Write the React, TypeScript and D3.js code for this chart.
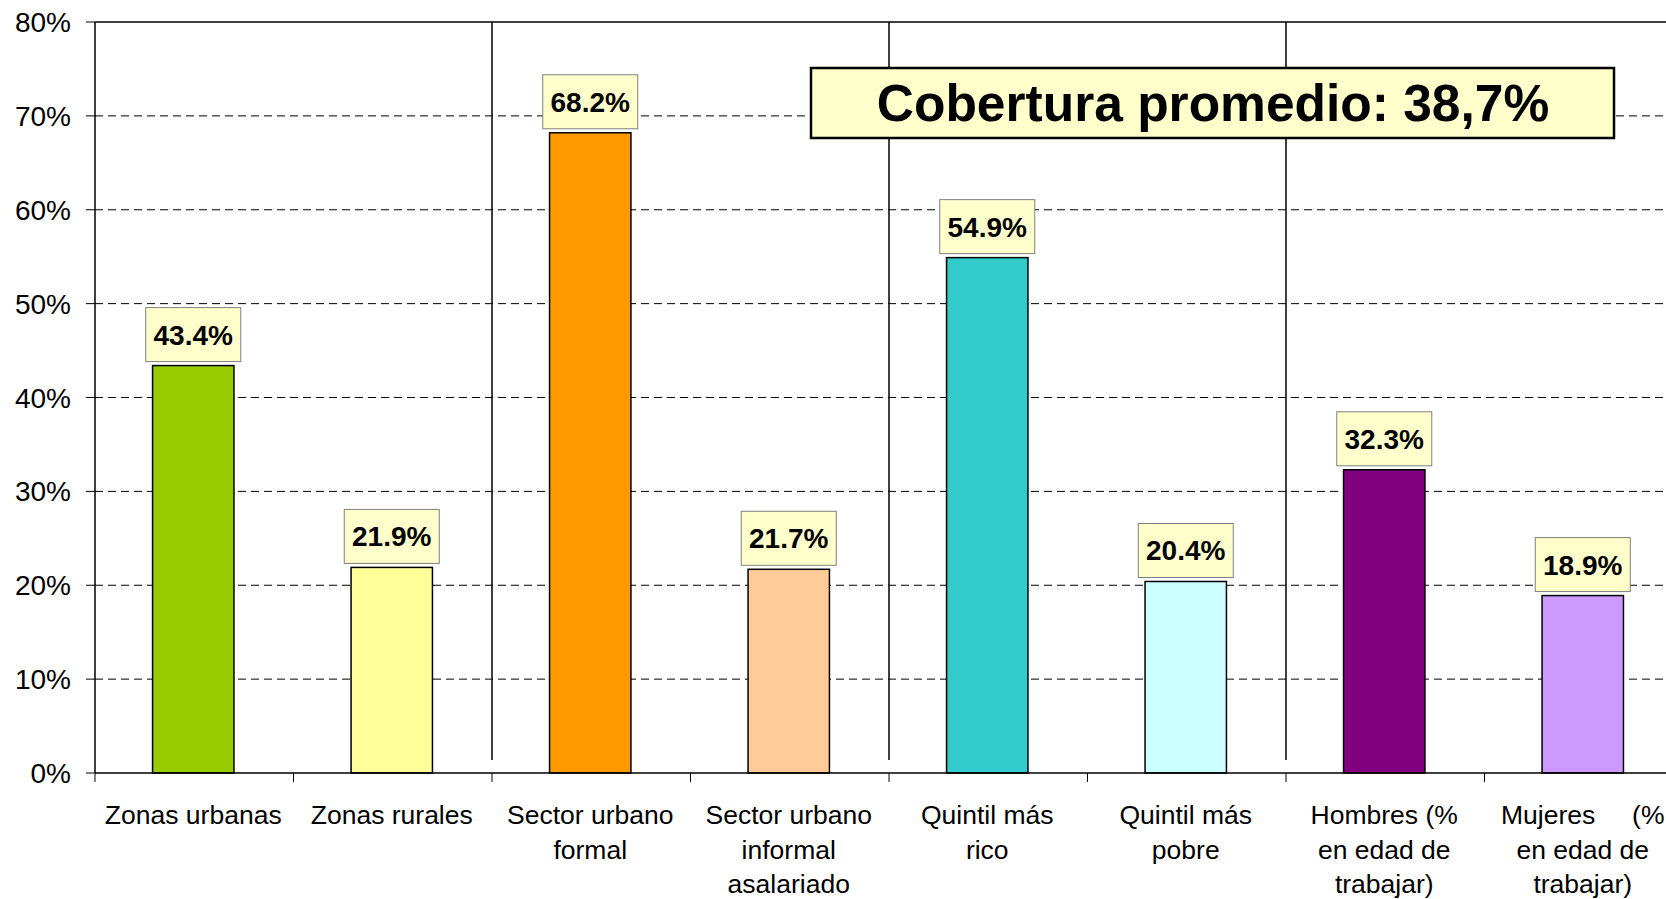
import { scaleBand, scaleLinear, range } from "d3";

const width = 1666;
const height = 899;

const categories = [
  "Zonas urbanas",
  "Zonas rurales",
  "Sector urbano formal",
  "Sector urbano informal asalariado",
  "Quintil más rico",
  "Quintil más pobre",
  "Hombres (% en edad de trabajar)",
  "Mujeres (% en edad de trabajar)",
];
const categoryLines = [
  ["Zonas urbanas"],
  ["Zonas rurales"],
  ["Sector urbano", "formal"],
  ["Sector urbano", "informal", "asalariado"],
  ["Quintil más", "rico"],
  ["Quintil más", "pobre"],
  ["Hombres (%", "en edad de", "trabajar)"],
  ["Mujeres     (%", "en edad de", "trabajar)"],
];
const values = [43.4, 21.9, 68.2, 21.7, 54.9, 20.4, 32.3, 18.9];
const colors = ["#99CC00", "#FFFF99", "#FF9900", "#FFCC99", "#33CCCC", "#CCFFFF", "#800080", "#CC99FF"];
const yTicks = [0, 10, 20, 30, 40, 50, 60, 70, 80];
const separators = [2, 4, 6];
const title = "Cobertura promedio: 38,7%";

const left = 95;
const top = 22;
const bottom = 773;
const band = 198.5;

const font = "'Liberation Sans', Arial, sans-serif";

const App = () => {
  const x = scaleBand<string>()
    .domain(categories)
    .range([left, left + band * categories.length])
    .padding(0);
  const y = scaleLinear().domain([0, 80]).range([bottom, top]);
  const right = left + band * categories.length;
  const barW = x.bandwidth() * 0.41;

  return (
    <svg
      width={width}
      height={height}
      style={{ position: "absolute", left: 0, top: 0, background: "#fff" }}
    >
      {/* grid */}
      {yTicks
        .filter((t) => t > 0 && t < 80)
        .map((t) => (
          <line
            key={t}
            x1={left}
            x2={right}
            y1={y(t)}
            y2={y(t)}
            stroke="#000"
            strokeWidth={1}
            strokeDasharray="8 5"
          />
        ))}
      <line x1={left} x2={right} y1={top} y2={top} stroke="#000" strokeWidth={1.5} />

      {/* group separators */}
      {separators.map((i) => (
        <line
          key={i}
          x1={x(categories[i])}
          x2={x(categories[i])}
          y1={top}
          y2={760}
          stroke="#000"
          strokeWidth={1.5}
        />
      ))}

      {/* bars */}
      {categories.map((c, i) => (
        <rect
          key={c}
          x={(x(c) as number) + (x.bandwidth() - barW) / 2 - 1}
          y={y(values[i])}
          width={barW}
          height={bottom - y(values[i])}
          fill={colors[i]}
          stroke="#000"
          strokeWidth={1.5}
        />
      ))}

      {/* axes */}
      <line x1={left} x2={left} y1={top} y2={bottom} stroke="#000" strokeWidth={1.5} />
      <line x1={left} x2={right} y1={bottom} y2={bottom} stroke="#000" strokeWidth={1.5} />
      {yTicks.map((t) => (
        <g key={t}>
          <line x1={left - 9} x2={left} y1={y(t)} y2={y(t)} stroke="#000" strokeWidth={1} />
          <text
            x={71}
            y={y(t) + 10}
            textAnchor="end"
            fontFamily={font}
            fontSize={28}
            fill="#000"
          >
            {t}%
          </text>
        </g>
      ))}
      {range(categories.length + 1).map((i) => (
        <line
          key={i}
          x1={left + i * x.bandwidth()}
          x2={left + i * x.bandwidth()}
          y1={bottom}
          y2={bottom + 9}
          stroke="#000"
          strokeWidth={1}
        />
      ))}
      {categories.map((c, i) => (
        <text
          key={c}
          textAnchor="middle"
          fontFamily={font}
          fontSize={26.5}
          fill="#000"
          style={{ whiteSpace: "pre" }}
        >
          {categoryLines[i].map((l, j) => (
            <tspan key={j} x={(x(c) as number) + x.bandwidth() / 2 - 1} y={824 + j * 34.5}>
              {l}
            </tspan>
          ))}
        </text>
      ))}

      {/* value labels */}
      {categories.map((c, i) => {
        const cx = (x(c) as number) + x.bandwidth() / 2 - 1;
        const ty = y(values[i]);
        return (
          <g key={c}>
            <rect
              x={cx - 47.5}
              y={ty - 58}
              width={95}
              height={54}
              fill="#FFFFCC"
              stroke="#808080"
              strokeWidth={1}
            />
            <text
              x={cx}
              y={ty - 21}
              textAnchor="middle"
              fontFamily={font}
              fontWeight="bold"
              fontSize={28}
              fill="#000"
            >
              {values[i].toFixed(1)}%
            </text>
          </g>
        );
      })}

      {/* title box */}
      <rect x={811} y={68} width={803} height={70} fill="#FFFFCC" stroke="#000" strokeWidth={2.5} />
      <text
        x={1213}
        y={121}
        textAnchor="middle"
        fontFamily={font}
        fontWeight="bold"
        fontSize={51.5}
        fill="#000"
      >
        {title}
      </text>
    </svg>
  );
};

export default App;
